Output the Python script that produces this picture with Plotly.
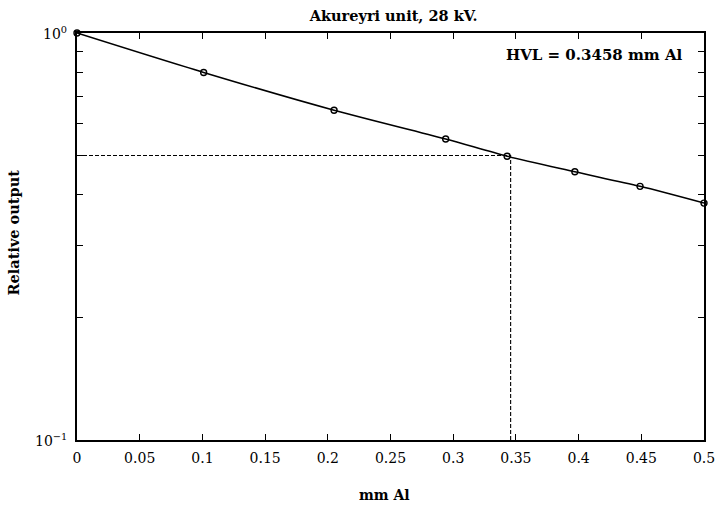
import math
import plotly.graph_objects as go

# Aluminium filtration measurements, Akureyri unit at 28 kV
thickness_mm = [0.0, 0.101, 0.205, 0.294, 0.343, 0.397, 0.449, 0.5]
relative_output = [1.0, 0.800, 0.646, 0.549, 0.498, 0.456, 0.420, 0.382]

hvl_mm = 0.3458
half_level = 0.5

x_ticks = [0, 0.05, 0.1, 0.15, 0.2, 0.25, 0.3, 0.35, 0.4, 0.45, 0.5]
x_tick_text = ["0", "0.05", "0.1", "0.15", "0.2", "0.25", "0.3", "0.35", "0.4", "0.45", "0.5"]
y_ticks = [0.1, 1.0]
y_tick_text = ["10<sup>−1</sup>", "10<sup>0</sup>"]
y_minor_ticks = [0.2, 0.3, 0.4, 0.5, 0.6, 0.7, 0.8, 0.9]

FONT = "DejaVu Serif"

fig = go.Figure()

# half-value guide lines
fig.add_trace(go.Scatter(
    x=[0, hvl_mm, hvl_mm], y=[half_level, half_level, 0.1],
    mode="lines", line=dict(color="black", width=1.1, dash="4px,2px"),
    hoverinfo="skip", showlegend=False))

# attenuation curve through the measured points
fig.add_trace(go.Scatter(
    x=thickness_mm, y=relative_output,
    mode="lines", line=dict(color="black", width=1.6, shape="spline", smoothing=0.8),
    showlegend=False))
fig.add_trace(go.Scatter(
    x=thickness_mm, y=relative_output,
    mode="markers",
    marker=dict(symbol="circle-open", size=6, color="black", line=dict(width=1.4)),
    cliponaxis=False, showlegend=False))

axis_common = dict(
    showgrid=False, zeroline=False, showline=True, linecolor="black", linewidth=1.8,
    mirror="ticks", ticks="inside", ticklen=6, tickwidth=1.2, tickcolor="black",
    tickfont=dict(family=FONT, size=14, color="black"), automargin=False,
    ticklabeloverflow="allow",
)

# decade labels on the log axis, set a little away from the axis line
decade_labels = [
    dict(text=txt, xref="paper", yref="y", x=0, y=math.log10(val),
         xanchor="right", yanchor="middle", xshift=-8, showarrow=False,
         font=dict(family=FONT, size=14))
    for val, txt in zip(y_ticks, y_tick_text)
]

fig.update_layout(
    width=715, height=507,
    margin=dict(l=77, r=11, t=33, b=67),
    paper_bgcolor="white", plot_bgcolor="white",
    font=dict(family=FONT, color="black"),
    title=dict(text="<b>Akureyri unit, 28 kV.</b>", x=0.505, xref="paper", xanchor="center",
               y=1 - 16 / 507, yanchor="middle", font=dict(family=FONT, size=14.5)),
    xaxis=dict(range=[0, 0.5], tickvals=x_ticks, ticktext=x_tick_text,
               ticklabelstandoff=4, **axis_common),
    yaxis=dict(type="log", range=[-1, 0], tickvals=y_ticks, showticklabels=False,
               minor=dict(tickvals=y_minor_ticks, ticks="inside", ticklen=6,
                          tickwidth=1.2, tickcolor="black", showgrid=False),
               **axis_common),
    annotations=decade_labels + [
        dict(text="<b>HVL = 0.3458 mm Al</b>", xref="paper", yref="paper",
             x=0.97, y=0.945, xanchor="right", yanchor="middle", showarrow=False,
             font=dict(family=FONT, size=15)),
        dict(text="<b>mm Al</b>", xref="paper", yref="paper",
             x=0.49, y=-0.135, xanchor="center", yanchor="middle", showarrow=False,
             font=dict(family=FONT, size=14)),
        dict(text="<b>Relative output</b>", xref="paper", yref="paper",
             x=-0.102, y=0.51, xanchor="center", yanchor="middle", showarrow=False,
             textangle=-90, font=dict(family=FONT, size=14.5)),
    ],
)

fig.write_html("out.html")
